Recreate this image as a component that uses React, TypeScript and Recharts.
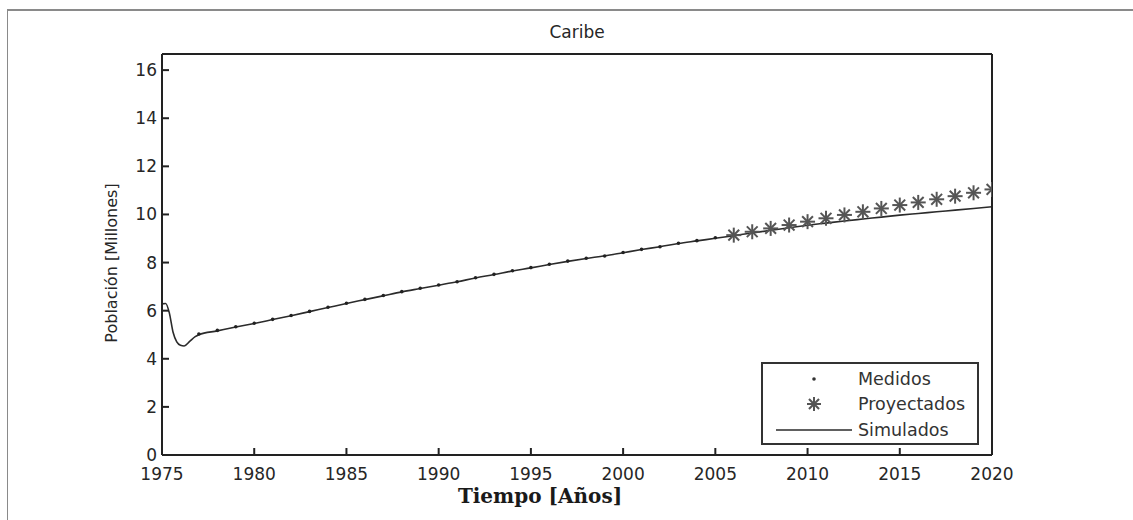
import React from "react";
import {
  ComposedChart,
  Line,
  Scatter,
  XAxis,
  YAxis,
  Legend,
} from "recharts";

const FONT = '"DejaVu Sans", sans-serif';
const INK = "#2b2b2b";

// simulated curve (fine steps at the start to follow the initial dip)
const simYears = [
  1975, 1975.2, 1975.4, 1975.6, 1975.8, 1976, 1976.2, 1976.5, 1976.8, 1977,
  1978, 1979, 1980, 1981, 1982, 1983, 1984, 1985, 1986, 1987, 1988, 1989,
  1990, 1991, 1992, 1993, 1994, 1995, 1996, 1997, 1998, 1999, 2000, 2001,
  2002, 2003, 2004, 2005, 2006, 2007, 2008, 2009, 2010, 2011, 2012, 2013,
  2014, 2015, 2016, 2017, 2018, 2019, 2020,
];
const simValues = [
  6.28, 6.3, 5.9, 5.1, 4.7, 4.56, 4.53, 4.72, 4.92, 5.0,
  5.16, 5.32, 5.47, 5.63, 5.79, 5.96, 6.13, 6.3, 6.46, 6.62, 6.78, 6.92,
  7.06, 7.2, 7.36, 7.5, 7.65, 7.78, 7.92, 8.05, 8.17, 8.28, 8.41, 8.54,
  8.66, 8.79, 8.9, 9.01, 9.12, 9.23, 9.34, 9.45, 9.55, 9.64, 9.73, 9.81,
  9.89, 9.97, 10.04, 10.11, 10.18, 10.25, 10.32,
];

// measured population (yearly)
const measYears = [
  1977, 1978, 1979, 1980, 1981, 1982, 1983, 1984, 1985, 1986, 1987, 1988,
  1989, 1990, 1991, 1992, 1993, 1994, 1995, 1996, 1997, 1998, 1999, 2000,
  2001, 2002, 2003, 2004, 2005,
];
const measValues = [
  5.03, 5.18, 5.33, 5.48, 5.64, 5.8, 5.97, 6.14, 6.31, 6.47, 6.63, 6.79,
  6.93, 7.07, 7.2, 7.37, 7.51, 7.66, 7.79, 7.93, 8.06, 8.18, 8.27, 8.42,
  8.55, 8.66, 8.8, 8.91, 9.03,
];

// projected population
const projYears = [
  2006, 2007, 2008, 2009, 2010, 2011, 2012, 2013, 2014, 2015, 2016, 2017,
  2018, 2019, 2020,
];
const projValues = [
  9.14, 9.28, 9.42, 9.56, 9.7, 9.84, 9.98, 10.11, 10.25, 10.39, 10.5, 10.63,
  10.76, 10.9, 11.04,
];

const xTicks = [1975, 1980, 1985, 1990, 1995, 2000, 2005, 2010, 2015, 2020];
const yTicks = [0, 2, 4, 6, 8, 10, 12, 14, 16];

const simData = simYears.map((year, i) => ({ year, value: simValues[i] }));
const measData = measYears.map((year, i) => ({ year, value: measValues[i] }));
const projData = projYears.map((year, i) => ({ year, value: projValues[i] }));

const Star = ({ cx, cy, r = 7.5, color = "#555" }: any) => {
  const d = r * 0.72;
  return (
    <g stroke={color} strokeWidth={2}>
      <line x1={cx - r} y1={cy} x2={cx + r} y2={cy} />
      <line x1={cx} y1={cy - r} x2={cx} y2={cy + r} />
      <line x1={cx - d} y1={cy - d} x2={cx + d} y2={cy + d} />
      <line x1={cx - d} y1={cy + d} x2={cx + d} y2={cy - d} />
    </g>
  );
};

const Dot = ({ cx, cy }: any) => <circle cx={cx} cy={cy} r={1.8} fill="#222" />;

const LegendBox = () => {
  const row = (top: number, marker: React.ReactNode, label: string) => (
    <div style={{ position: "absolute", left: 0, top, width: 218, height: 24 }}>
      <svg width={95} height={24} style={{ position: "absolute", left: 0, top: 0 }}>
        {marker}
      </svg>
      <span
        style={{
          position: "absolute",
          left: 95,
          top: 1,
          fontFamily: FONT,
          fontSize: 17.5,
          color: "#333",
          lineHeight: "22px",
          whiteSpace: "nowrap",
        }}
      >
        {label}
      </span>
    </div>
  );
  return (
    <div
      style={{
        position: "relative",
        width: 218,
        height: 83,
        border: "2px solid #333",
        boxSizing: "border-box",
        background: "#fff",
      }}
    >
      {row(3, <circle cx={51} cy={12} r={1.8} fill="#333" />, "Medidos")}
      {row(28, <Star cx={51} cy={12} r={7} />, "Proyectados")}
      {row(54, <line x1={13} y1={12} x2={89} y2={12} stroke={INK} strokeWidth={1.6} />, "Simulados")}
    </div>
  );
};

export default function App() {
  const tickStyle = { fontFamily: FONT, fontSize: 17, fill: "#262626" };
  return (
    <div
      style={{
        position: "absolute",
        left: 0,
        top: 0,
        width: 1133,
        height: 520,
        background: "#fff",
      }}
    >
      {/* outer frame */}
      <div
        style={{
          position: "absolute",
          left: 7,
          top: 9,
          width: 1126,
          height: 511,
          borderLeft: "1.5px solid #8a8a8a",
          borderTop: "2px solid #8a8a8a",
          boxSizing: "border-box",
        }}
      />
      <ComposedChart
        width={1133}
        height={520}
        margin={{ top: 44, right: 131, bottom: 35, left: 112 }}
        style={{ position: "absolute", left: 0, top: 0 }}
      >
        <XAxis
          xAxisId="bottom"
          dataKey="year"
          type="number"
          domain={[1975, 2020]}
          ticks={xTicks}
          allowDataOverflow
          height={30}
          tickSize={-7}
          tickMargin={20}
          stroke="#222"
          strokeWidth={2}
          tick={tickStyle}
          tickLine={{ stroke: "#222", strokeWidth: 2 }}
        />
        <XAxis
          xAxisId="top"
          orientation="top"
          dataKey="year"
          type="number"
          domain={[1975, 2020]}
          ticks={xTicks}
          allowDataOverflow
          height={10}
          tickSize={-7}
          tick={false}
          stroke="#222"
          strokeWidth={2}
          tickLine={{ stroke: "#222", strokeWidth: 2 }}
        />
        <YAxis
          yAxisId="left"
          type="number"
          domain={[0, 16.67]}
          ticks={yTicks}
          allowDataOverflow
          width={50}
          tickSize={-7}
          tickMargin={12}
          stroke="#222"
          strokeWidth={2}
          tick={tickStyle}
          tickLine={{ stroke: "#222", strokeWidth: 2 }}
        />
        <YAxis
          yAxisId="right"
          orientation="right"
          type="number"
          domain={[0, 16.67]}
          ticks={yTicks}
          allowDataOverflow
          width={10}
          tickSize={-7}
          tick={false}
          stroke="#222"
          strokeWidth={2}
          tickLine={{ stroke: "#222", strokeWidth: 2 }}
        />
        <Line
          xAxisId="bottom"
          yAxisId="left"
          data={simData}
          dataKey="value"
          type="monotone"
          stroke={INK}
          strokeWidth={1.6}
          dot={false}
          activeDot={false}
          isAnimationActive={false}
          name="Simulados"
        />
        <Scatter
          xAxisId="bottom"
          yAxisId="left"
          data={measData}
          dataKey="value"
          shape={<Dot />}
          isAnimationActive={false}
          name="Medidos"
        />
        <Scatter
          xAxisId="bottom"
          yAxisId="left"
          data={projData}
          dataKey="value"
          shape={<Star />}
          isAnimationActive={false}
          name="Proyectados"
        />
        <Legend
          layout="vertical"
          align="center"
          verticalAlign="middle"
          content={<LegendBox />}
          wrapperStyle={{ left: 761, top: 362, width: 218, height: 83 }}
        />
      </ComposedChart>
      {/* title */}
      <div
        style={{
          position: "absolute",
          left: 162,
          width: 830,
          top: 22,
          textAlign: "center",
          fontFamily: FONT,
          fontSize: 17,
          color: "#262626",
        }}
      >
        Caribe
      </div>
      {/* x axis title */}
      <div
        style={{
          position: "absolute",
          left: 340,
          width: 400,
          top: 484,
          textAlign: "center",
          fontFamily: '"DejaVu Serif", serif',
          fontWeight: "bold",
          fontSize: 20,
          color: "#1a1a1a",
        }}
      >
        Tiempo [Años]
      </div>
      {/* y axis title */}
      <div
        style={{
          position: "absolute",
          left: 112 - 150,
          top: 263 - 11,
          width: 300,
          height: 22,
          lineHeight: "22px",
          textAlign: "center",
          transform: "rotate(-90deg)",
          fontFamily: FONT,
          fontSize: 16,
          color: "#262626",
        }}
      >
        Población [Millones]
      </div>
    </div>
  );
}
